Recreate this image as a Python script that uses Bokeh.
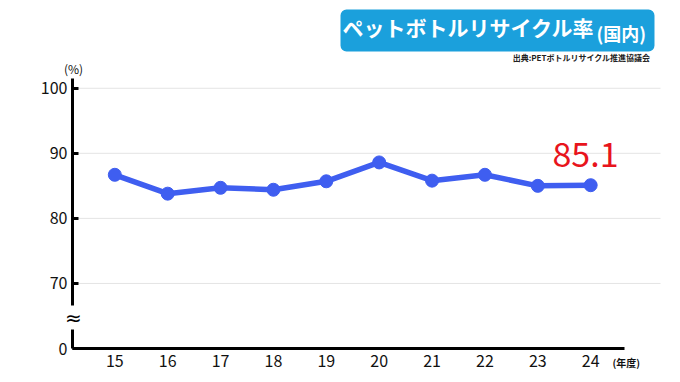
from bokeh.plotting import figure
from bokeh.models import Label, FixedTicker, Range1d
from bokeh.embed import file_html
from bokeh.resources import INLINE

# ---- data ----
years = [15, 16, 17, 18, 19, 20, 21, 22, 23, 24]
year_labels = ["15", "16", "17", "18", "19", "20", "21", "22", "23", "24"]
rate = [86.7, 83.8, 84.7, 84.4, 85.7, 88.6, 85.8, 86.7, 85.0, 85.1]
y_ticks = [60, 70, 80, 90, 100]
y_tick_labels = ["0", "70", "80", "90", "100"]
grid_ticks = [70, 80, 90, 100]
title_main = "ペットボトルリサイクル率"
title_sub = "(国内)"
source = "出典:PETボトルリサイクル推進協議会"
last_label = "85.1"

FONT = "Noto Sans CJK JP"

# ---- layout (page pixels) ----
W, H = 680, 382
AX_L, AX_R, AX_T, AX_B = 72, 624, 78, 348   # axis box in page px
X0, X1 = 14.2, 24.64                          # x at axis left / right end
Y0, Y1 = 60, 101.5                            # y at axis bottom / top end
PXU = (AX_R - AX_L) / (X1 - X0)
PYU = (AX_B - AX_T) / (Y1 - Y0)

def dx(px):
    return X0 + (px - AX_L) / PXU

def dy(py):
    return Y0 + (AX_B - py) / PYU

p = figure(width=W, height=H, output_backend="svg", toolbar_location=None,
           x_range=Range1d(dx(0), dx(W)), y_range=Range1d(dy(H), dy(0)),
           min_border=0)
p.outline_line_color = None
p.background_fill_color = "white"
p.border_fill_color = "white"

# axes drawn at fixed positions inside the frame
p.xaxis.fixed_location = Y0
p.xaxis.bounds = (X0, X1)
p.xaxis.ticker = FixedTicker(ticks=years)
p.xaxis.major_label_overrides = {y: l for y, l in zip(years, year_labels)}
p.xaxis.axis_line_width = 3
p.xaxis.axis_line_color = "black"
p.xaxis.major_tick_line_color = None
p.xaxis.major_tick_out = 0
p.xaxis.major_tick_in = 0
p.xaxis.minor_tick_line_color = None
p.xaxis.major_label_text_font = FONT
p.xaxis.major_label_text_font_size = "16px"
p.xaxis.major_label_text_color = "#111111"
p.xaxis.major_label_standoff = 6

p.yaxis.fixed_location = X0
p.yaxis.bounds = (Y0, Y1)
p.yaxis.ticker = FixedTicker(ticks=y_ticks)
p.yaxis.major_label_overrides = {t: l for t, l in zip(y_ticks, y_tick_labels)}
p.yaxis.axis_line_width = 3
p.yaxis.axis_line_color = "black"
p.yaxis.major_tick_line_width = 3
p.yaxis.major_tick_line_color = "black"
p.yaxis.major_tick_in = 6
p.yaxis.major_tick_out = 0
p.yaxis.minor_tick_line_color = None
p.yaxis.major_label_text_font = FONT
p.yaxis.major_label_text_font_size = "16px"
p.yaxis.major_label_text_color = "#111111"
p.yaxis.major_label_standoff = 5

p.xgrid.grid_line_color = None
p.ygrid.grid_line_color = None

# horizontal gridlines from the axis to the right
p.segment(x0=[X0] * len(grid_ticks), x1=[dx(660)] * len(grid_ticks),
          y0=grid_ticks, y1=grid_ticks, line_color="#e4e4e4", line_width=1,
          level="underlay")

# series
p.line(years, rate, line_color="#3f5ef0", line_width=5.5)
p.scatter(years, rate, size=13, fill_color="#3f5ef0", line_color="#3f5ef0")

def lab(px, py, text, **kw):
    p.add_layout(Label(x=dx(px), y=dy(py), text=text, text_baseline="middle", **kw))

# axis break mark
lab(73, 317, "≈", text_align="center", text_font="DejaVu Sans",
    text_font_size="20px", text_color="black", background_fill_color="white",
    padding=0)

# value label
lab(552, 154, last_label, text_align="left", text_font=FONT,
    text_font_size="34px", text_color="#e8141c")

# unit labels
lab(73, 68, "(%)", text_align="center", text_font=FONT,
    text_font_size="12px", text_color="#111111")
lab(612, 362, "(年度)", text_align="left", text_font=FONT,
    text_font_size="10px", text_font_style="bold", text_color="#111111")

# title box
lab(340, 30, title_main, text_align="left", text_font=FONT,
    text_font_size="21px", text_font_style="bold", text_color="white",
    background_fill_color="#1ba0dc", border_radius=6,
    padding=(2, 60, 2, 10))
lab(596, 32, title_sub, text_align="left", text_font=FONT,
    text_font_size="18px", text_font_style="bold", text_color="white")

# source
lab(650, 57, source, text_align="right", text_font=FONT,
    text_font_size="8px", text_font_style="bold", text_color="#222222")

open("out.html", "w").write(file_html(p, INLINE))
